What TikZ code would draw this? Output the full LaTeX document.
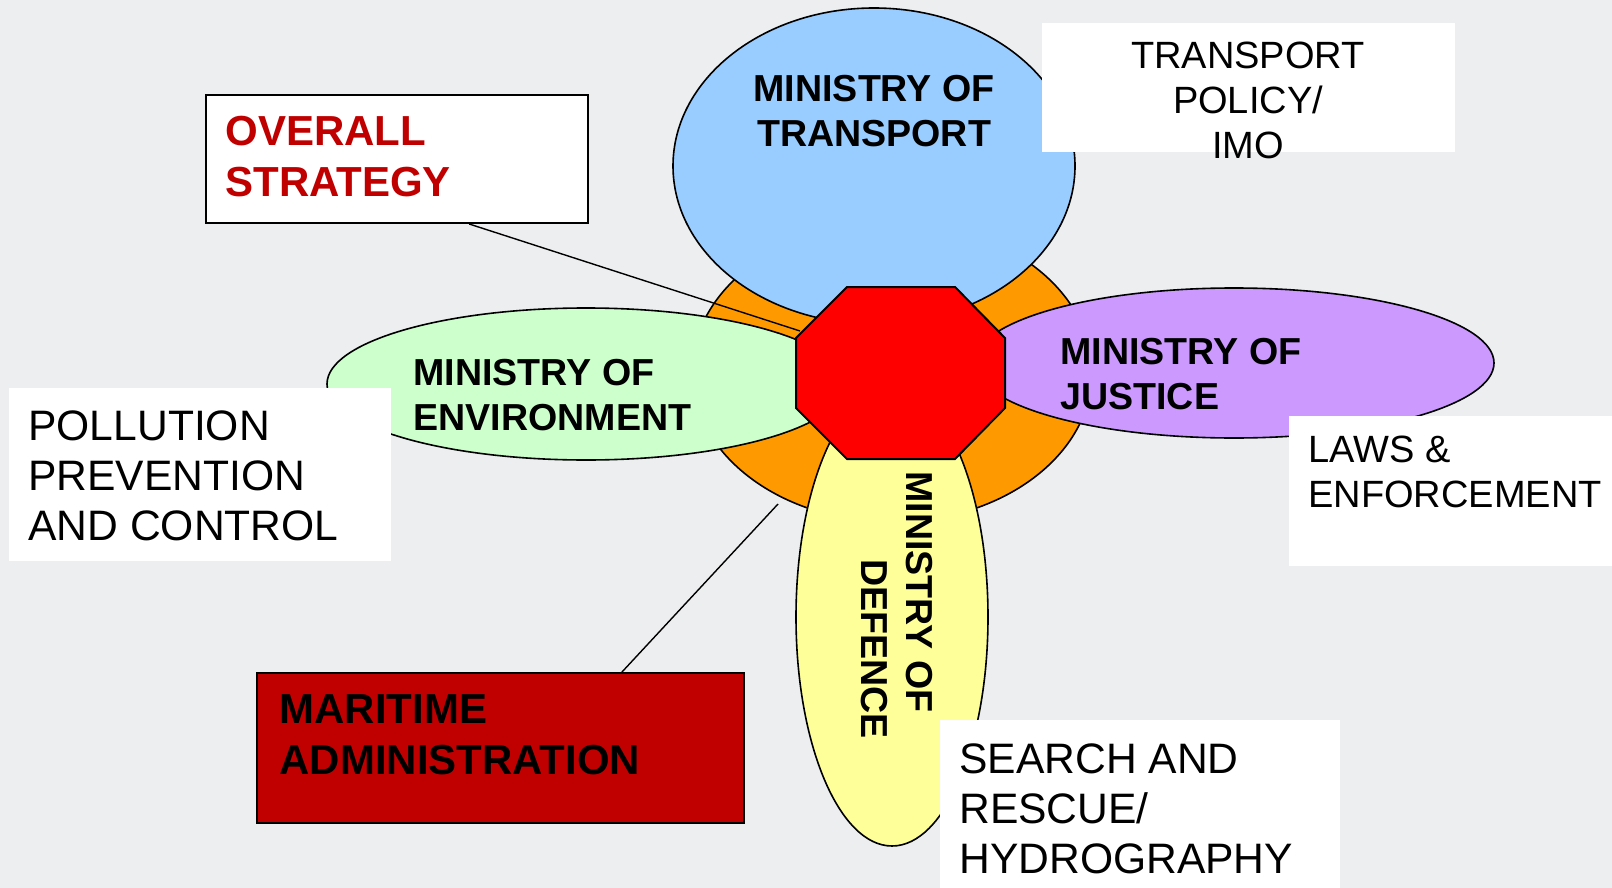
\documentclass[tikz,border=0pt]{standalone}
\usepackage{fontspec}
\setmainfont{Liberation Sans}
\usetikzlibrary{shapes.geometric}

\definecolor{bgc}{HTML}{EDEEF0}
\definecolor{transblue}{HTML}{99CCFF}
\definecolor{envgreen}{HTML}{CCFFCC}
\definecolor{juspurple}{HTML}{CC99FF}
\definecolor{defyellow}{HTML}{FFFF99}
\definecolor{hubor}{HTML}{FF9900}
\definecolor{darkred}{HTML}{C00000}

\begin{document}
\begin{tikzpicture}[x=0.5pt, y=-0.5pt,
	petal/.style={ellipse, draw, line width=0.8pt, inner sep=0pt},
	infobox/.style={rectangle, fill=white, inner sep=0pt},
	txt/.style={inner sep=0pt, align=left, anchor=north west},
	bigtxt/.style={txt, font=\fontsize{21.3}{25}\selectfont},
	smalltxt/.style={txt, font=\fontsize{19}{22.3}\selectfont},
	mintxt/.style={txt, font=\fontsize{18.8}{22.3}\selectfont\bfseries},
	headtxt/.style={txt, font=\fontsize{21}{25.5}\selectfont\bfseries}]
	\fill [bgc] (0,0) rectangle (1612,888);
	\useasboundingbox (0,0) rectangle (1612,888);

	% Petals {orange, transport, environment, justice, defence}
	\node [petal, fill=hubor, minimum width=200pt, minimum height=150pt] 	(ring) 	at (892,372) {};
	\node [petal, fill=transblue, minimum width=201pt, minimum height=158pt] 	(trans) at (874,166) {};
	\node [petal, fill=envgreen, minimum width=259pt, minimum height=76pt] 	(env) 	at (586,384) {};
	\node [petal, fill=juspurple, minimum width=260pt, minimum height=75pt] 	(jus) 	at (1234,363) {};
	\node [petal, fill=defyellow, minimum width=96pt, minimum height=229pt] 	(def) 	at (892,617) {};

	% Boxes
	\node [infobox, draw, line width=1pt, minimum width=191pt, minimum height=64pt] 	(strat) 	at (397,159) {};
	\node [infobox, minimum width=206.5pt, minimum height=64.5pt] 	(policy) 	at (1248.5,87.5) {};
	\node [infobox, minimum width=191pt, minimum height=86.5pt] 	(poll) 	at (200,474.5) {};
	\node [infobox, minimum width=162pt, minimum height=75pt] 	(laws) 	at (1450.5,491) {};
	\node [infobox, minimum width=200pt, minimum height=85pt] 	(search) 	at (1140,805) {};
	\node [infobox, draw, fill=darkred, line width=0.8pt, minimum width=243.5pt, minimum height=75pt] 	(mar) 	at (500.5,748) {};

	% Connectors
	\coordinate (stratend) at (800,331);
	\coordinate (marend) at (778,504);
	\draw [line width=0.7pt] (strat.-42) -- (stratend);
	\draw [line width=0.7pt] (mar.32) -- (marend);

	% Hub
	\draw [fill=red, line width=1pt] (847,287) -- (955,287) -- (1005,338) -- (1005,408)
		-- (955,459) -- (847,459) -- (796,408) -- (796,338) -- cycle;

	% Texts
	\node [mintxt, anchor=north, align=center] 	(transtext) 	at (874,75) 	{MINISTRY OF\\TRANSPORT};
	\node [mintxt] 	(envtext) 	at (413,359) 	{MINISTRY OF\\ENVIRONMENT};
	\node [mintxt] 	(justext) 	at (1060,338) 	{MINISTRY OF\\JUSTICE};
	\node [mintxt, rotate=-90, anchor=west] 	(deftexta) 	at (919,471) 	{MINISTRY OF};
	\node [mintxt, rotate=-90, anchor=west] 	(deftextb) 	at (874,559) 	{DEFENCE};
	\node [headtxt, text=darkred] 	(strattext) 	at (225,116) 	{OVERALL\\STRATEGY};
	\node [headtxt] 	(martext) 	at (279,694) 	{MARITIME\\ADMINISTRATION};
	\node [smalltxt, anchor=north, align=center] 	(policytext) 	at (1248,42) 	{TRANSPORT\\POLICY/\\IMO};
	\node [smalltxt] 	(lawstext) 	at (1308,436) 	{LAWS \&\\ENFORCEMENT};
	\node [bigtxt] 	(polltext) 	at (28,410) 	{POLLUTION\\PREVENTION\\AND CONTROL};
	\node [bigtxt] 	(searchtext) 	at (959,743) 	{SEARCH AND\\RESCUE/\\HYDROGRAPHY};
\end{tikzpicture}
\end{document}
